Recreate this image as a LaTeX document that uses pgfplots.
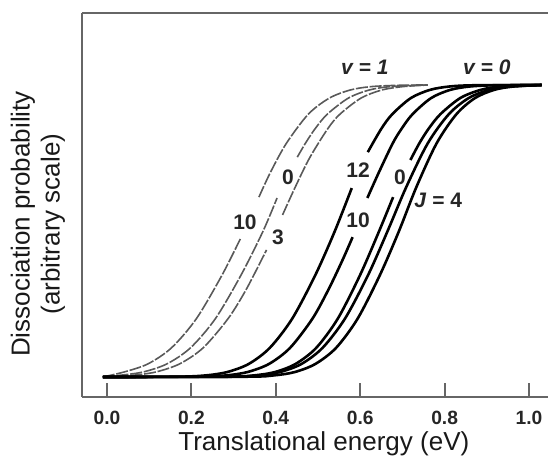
\documentclass[border=0pt]{standalone}
\usepackage{fontspec}
\setmainfont{Liberation Sans}
\usepackage{pgfplots}
\pgfplotsset{compat=1.18}
\tikzset{
  v1/.style={black!65, line width=0.8pt, dash pattern=on 6pt off 0.9pt, smooth, tension=0.5},
  v0/.style={black, line width=1.3pt, smooth, tension=0.5},
  lab/.style={font=\bfseries\fontsize{10.5}{12}\selectfont, text=black!85},
}
\begin{document}
\begin{tikzpicture}
\useasboundingbox (-41pt,-31pt) rectangle (233pt,198.5pt);
\begin{axis}[
  at={(0,0)}, anchor=south west,
  scale only axis, width=233pt, height=192pt,
  xmin=-0.0592, xmax=1.045, ymin=-0.0685, ymax=1.2466,
  axis x line*=bottom, axis y line*=left,
  axis line style={black!60, line width=1.1pt},
  xtick={0,0.2,0.4,0.6,0.8,1.0},
  xticklabels={0.0,0.2,0.4,0.6,0.8,1.0},
  ytick=\empty,
  tick align=inside, major tick length=7pt,
  tick style={black!60, line width=0.9pt},
  xticklabel style={font=\bfseries\fontsize{9.6}{11}\selectfont, text=black!85, yshift=-3.3pt},
  clip=false, no markers,
]
% ---------- v = 1 ----------
% J = 10
\addplot[v1] coordinates {(-0.01,0) (0.040,0.0169) (0.097,0.0448) (0.153,0.10) (0.212,0.20) (0.273,0.35) (0.317,0.476)};
\addplot[v1] coordinates {(0.360,0.616) (0.387,0.70) (0.425,0.80) (0.477,0.90) (0.527,0.9552) (0.577,0.9831) (0.627,0.9946) (0.695,0.9991) (0.76,1.0)};
% J = 0
\addplot[v1] coordinates {(-0.01,0) (0.028,0.0054) (0.085,0.0169) (0.142,0.0448) (0.198,0.10) (0.257,0.20) (0.318,0.35) (0.370,0.50) (0.403,0.613)};
\addplot[v1] coordinates {(0.451,0.753) (0.470,0.80) (0.493,0.85) (0.522,0.90) (0.572,0.9552) (0.622,0.9831) (0.672,0.9946) (0.740,0.9991) (0.76,1.0)};
% J = 3
\addplot[v1] coordinates {(-0.01,0) (0.058,0.0054) (0.115,0.0169) (0.172,0.0448) (0.228,0.10) (0.287,0.20) (0.330,0.30) (0.378,0.435)};
\addplot[v1] coordinates {(0.416,0.555) (0.446,0.65) (0.480,0.75) (0.523,0.85) (0.552,0.90) (0.602,0.9552) (0.652,0.9831) (0.702,0.9946) (0.76,1.0)};
% ---------- v = 0 ----------
% J = 12
\addplot[v0] coordinates {(-0.01,0) (0.166,0.0009) (0.234,0.0054) (0.285,0.0169) (0.336,0.0448) (0.386,0.10) (0.439,0.20) (0.494,0.35) (0.540,0.50) (0.580,0.647)};
\addplot[v0] coordinates {(0.618,0.770) (0.650,0.85) (0.676,0.90) (0.720,0.9552) (0.765,0.9831) (0.810,0.9946) (0.870,0.9991) (1.03,1.0)};
% J = 10
\addplot[v0] coordinates {(-0.01,0) (0.214,0.0009) (0.282,0.0054) (0.333,0.0169) (0.384,0.0448) (0.434,0.10) (0.487,0.20) (0.525,0.30) (0.558,0.40) (0.582,0.479)};
\addplot[v0] coordinates {(0.617,0.613) (0.644,0.70) (0.677,0.80) (0.698,0.85) (0.724,0.90) (0.768,0.9552) (0.813,0.9831) (0.858,0.9946) (0.918,0.9991) (1.03,1.0)};
% J = 0
\addplot[v0] coordinates {(-0.01,0) (0.282,0.0009) (0.348,0.0054) (0.398,0.0169) (0.447,0.0448) (0.496,0.10) (0.547,0.20) (0.600,0.35) (0.645,0.50) (0.678,0.616)};
\addplot[v0] coordinates {(0.719,0.743) (0.740,0.80) (0.762,0.85) (0.790,0.90) (0.837,0.9552) (0.885,0.9831) (0.933,0.9946) (1.03,1.0)};
% unlabeled
\addplot[v0] coordinates {(-0.01,0) (0.291,0.0009) (0.359,0.0054) (0.410,0.0169) (0.461,0.0448) (0.511,0.10) (0.564,0.20) (0.619,0.35) (0.665,0.50) (0.709,0.65) (0.760,0.80) (0.810,0.90) (0.857,0.9552) (0.905,0.9831) (0.953,0.9946) (1.03,1.0)};
% J = 4
\addplot[v0] coordinates {(-0.01,0) (0.329,0.0009) (0.395,0.0054) (0.445,0.0169) (0.494,0.0448) (0.543,0.10) (0.594,0.20) (0.647,0.35) (0.692,0.50) (0.733,0.65) (0.781,0.80) (0.828,0.90) (0.872,0.9552) (0.917,0.9831) (0.962,0.9946) (1.03,1.0)};
% ---------- labels ----------
\node[lab] at (axis cs:0.327,0.531) {10};
\node[lab] at (axis cs:0.429,0.685) {0};
\node[lab] at (axis cs:0.405,0.479) {3};
\node[lab] at (axis cs:0.595,0.709) {12};
\node[lab] at (axis cs:0.595,0.538) {10};
\node[lab] at (axis cs:0.694,0.685) {0};
\node[lab] at (axis cs:0.785,0.606) {\textit{J} = 4};
\node[lab] at (axis cs:0.611,1.062) {\itshape v = 1};
\node[lab] at (axis cs:0.900,1.062) {\itshape v = 0};
% top frame line
\draw[black!60, line width=1.1pt] (rel axis cs:0,1) -- (rel axis cs:1,1);
% axis titles
\node[rotate=90, align=center, font=\fontsize{13}{15}\selectfont, text=black!90] at ([xshift=-22pt]rel axis cs:0,0.4505) {Dissociation probability\\(arbitrary scale)};
\node[font=\fontsize{13}{15}\selectfont, text=black!90] at ([yshift=-23.2pt]rel axis cs:0.519,0) {Translational energy (eV)};
\end{axis}
\end{tikzpicture}
\end{document}
